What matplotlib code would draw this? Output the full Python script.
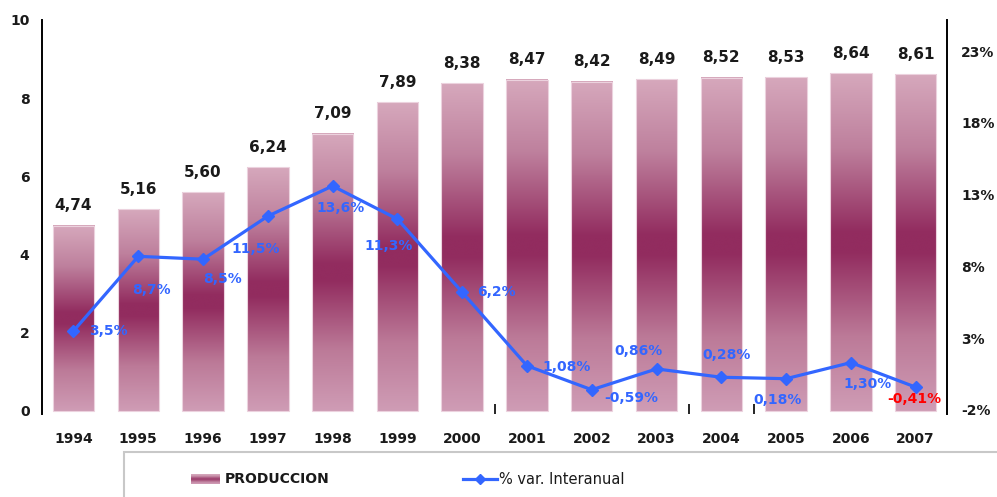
import numpy as np
import matplotlib
matplotlib.use('Agg')
import matplotlib.pyplot as plt
from matplotlib.colors import LinearSegmentedColormap
from matplotlib.lines import Line2D
from matplotlib.patches import Rectangle

# ---------------- data ----------------
years = ['1994', '1995', '1996', '1997', '1998', '1999', '2000',
         '2001', '2002', '2003', '2004', '2005', '2006', '2007']
produccion = [4.74, 5.16, 5.60, 6.24, 7.09, 7.89, 8.38,
              8.47, 8.42, 8.49, 8.52, 8.53, 8.64, 8.61]
variacion = [3.5, 8.7, 8.5, 11.5, 13.6, 11.3, 6.2,
             1.08, -0.59, 0.86, 0.28, 0.18, 1.30, -0.41]
var_decimals = [1, 1, 1, 1, 1, 1, 1, 2, 2, 2, 2, 2, 2, 2]
left_ticks = [0, 2, 4, 6, 8, 10]
right_ticks = [-2, 3, 8, 13, 18, 23]

# ---------------- layout / style ----------------
W, H = 997, 497
fig = plt.figure(figsize=(W / 100, H / 100), dpi=100)
plt.rcParams['font.family'] = ['DejaVu Sans']

ax = fig.add_axes([42 / W, 1 - 414 / H, (947.3 - 42) / W, (414 - 20) / H])
x = np.arange(len(years))
xlim = (-0.486, 13.488)
ylim = (-0.077, 10)
bar_w = 0.64

cmap = LinearSegmentedColormap.from_list(
    'prod', [(0.0, (207/255, 156/255, 181/255)),
             (0.22, (188/255, 122/255, 152/255)),
             (0.47, (146/255, 44/255, 95/255)),
             (0.53, (146/255, 44/255, 95/255)),
             (0.78, (190/255, 128/255, 157/255)),
             (1.0, (214/255, 168/255, 188/255))])
grad = np.linspace(0, 1, 256).reshape(-1, 1)

bars = ax.bar(x, produccion, width=bar_w, color='none',
              edgecolor='#ecd2de', linewidth=0.8, zorder=2)
for rect in bars:
    x0 = rect.get_x()
    h = rect.get_height()
    ax.imshow(grad, extent=[x0, x0 + rect.get_width(), 0, h], origin='lower',
              aspect='auto', cmap=cmap, interpolation='bicubic', zorder=1)
    ax.annotate(f"{h:.2f}".replace('.', ','), (x0 + rect.get_width() / 2, h),
                xytext=(0, 20), textcoords='offset pixels', ha='center',
                va='center', fontsize=11, fontweight='bold', color='#1a1a1a')
ax.set_xlim(*xlim)
ax.set_ylim(*ylim)

ax.set_xticks(x)
ax.set_xticklabels(years, fontsize=10, fontweight='bold', color='#1a1a1a')
ax.tick_params(axis='x', length=0, pad=13)
ax.set_xticks([6.5, 9.5, 10.5], minor=True)
ax.tick_params(axis='x', which='minor', direction='in', length=7, width=1.2)

ax.set_yticks(left_ticks)
ax.set_yticklabels([str(t) for t in left_ticks], fontsize=10,
                   fontweight='bold', color='#1a1a1a')
ax.tick_params(axis='y', length=0, pad=9)
ax.set_yticks([4, 10], minor=True)
ax.tick_params(axis='y', which='minor', direction='inout', length=6.5, width=1.2)

for s in ['top', 'bottom', 'right']:
    ax.spines[s].set_visible(False)
ax.spines['left'].set_linewidth(1.4)

# ---------------- right axis ----------------
ax2 = ax.twinx()
ax2.set_ylim(-2.279, 25.159)
blue = '#3366ff'
ax2.plot(x, variacion, color=blue, linewidth=2.3, marker='D', markersize=6,
         zorder=5)
offsets = [(35, 0), (13, -34), (19, -20), (-12, -33), (8, -22), (-9, -27),
           (34, 0), (40, -1), (39, -8), (-18, 18), (5, 22), (-9, -21),
           (17, -21), (-1, -12)]
for xi, v, d, off in zip(x, variacion, var_decimals, offsets):
    txt = f"{v:.{d}f}".replace('.', ',') + '%'
    col = 'red' if v < 0 and xi == len(x) - 1 else blue
    ax2.annotate(txt, (xi, v), xytext=off, textcoords='offset pixels',
                 ha='center', va='center', fontsize=10, fontweight='bold',
                 color=col, zorder=6)
ax2.set_yticks(right_ticks)
ax2.set_yticklabels([f"{t}%" for t in right_ticks], fontsize=10,
                    fontweight='bold', color='#1a1a1a')
ax2.tick_params(axis='y', length=0, pad=10)
ax2.set_yticks([8, 23], minor=True)
ax2.tick_params(axis='y', which='minor', direction='inout', length=6.5, width=1.2)
for s in ['top', 'bottom', 'left']:
    ax2.spines[s].set_visible(False)
ax2.spines['right'].set_linewidth(1.4)
ax2.set_xlim(*xlim)

# ---------------- legend ----------------
fig.patches.append(Rectangle((124 / W, -0.05), 1.0, 1 - 452 / H + 0.05,
                             transform=fig.transFigure, fill=False,
                             edgecolor='#c8c8c8', linewidth=1.5))
lax = fig.add_axes([191 / W, 1 - 484 / H, 29 / W, 10 / H])
lax.imshow(np.array([0, 0.25, 0.5, 0.75, 1.0]).reshape(-1, 1), cmap=cmap,
           aspect='auto', origin='lower', interpolation='bicubic')
lax.axis('off')
fig.text(225 / W, 1 - 479 / H, 'PRODUCCION', fontsize=10, fontweight='bold',
         va='center', ha='left', color='#1a1a1a')
fig.lines.append(Line2D([463 / W, 497 / W], [1 - 479 / H, 1 - 479 / H],
                        transform=fig.transFigure, color=blue, linewidth=2.3))
fig.lines.append(Line2D([480 / W], [1 - 479 / H], transform=fig.transFigure,
                        color=blue, marker='D', markersize=5))
fig.text(499 / W, 1 - 479 / H, '% var. Interanual', fontsize=10.5,
         va='center', ha='left', color='#1a1a1a')

fig.savefig('out.png', dpi=100)
